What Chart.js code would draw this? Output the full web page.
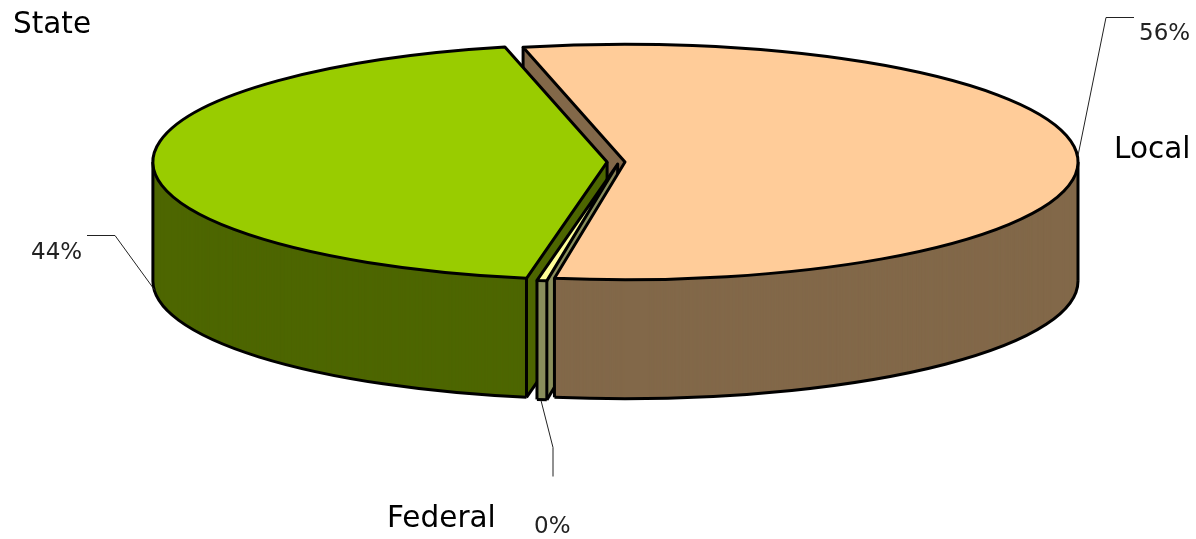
<!DOCTYPE html>
<html>
<head>
<meta charset="utf-8">
<title>Pie</title>
<script src="https://cdn.jsdelivr.net/npm/chart.js@4/dist/chart.umd.min.js"></script>
<style>
html, body { margin: 0; padding: 0; background: #fff; }
canvas { display: block; }
</style>
</head>
<body>
<canvas id="pie-chart" width="1196" height="539"></canvas>
<script>
const categories = ['Local', 'Federal', 'State'];
const shares = [56.1, 0.35, 43.55];
const percentLabels = ['56%', '0%', '44%'];
const topColors = ['#FFCC99', '#FFFF99', '#99CC00'];
const wallColors = ['#826849', '#8A8F5C', '#4D6600'];
const sliceOffsets = [24, 32, 47.6];

// 3d look: the chart is flattened to an ellipse and walls are stacked under it
const tilt = 0.26;
const depth = 119;
const outline = 3;

const nameSpots = [[1114, 158], [387, 527], [13, 33]];
const percentSpots = [[1139, 40], [534, 533], [31, 259]];
const leaders = [
    [[1078, 155], [1106, 17], [1134, 17]],
    [[541, 400], [553, 447], [553, 476]],
    [[155, 290], [115, 235], [87, 235]]
];

// same numbers ArcElement.draw uses for an offset slice
function sliceGeom(arc) {
    const move = (arc.options.offset || 0) / 4;
    const mid = (arc.startAngle + arc.endAngle) / 2;
    const fix = 1 - Math.sin(Math.min(Math.PI, arc.circumference));
    const r = arc.outerRadius + move * fix;
    return {
        x: arc.x + Math.cos(mid) * move,
        y: arc.y + Math.sin(mid) * move * tilt,
        rx: r,
        ry: r * tilt
    };
}

function slicePath(ctx, g, dy, a0, a1) {
    ctx.beginPath();
    ctx.moveTo(g.x, g.y + dy);
    ctx.ellipse(g.x, g.y + dy, g.rx, g.ry, 0, a0, a1);
    ctx.closePath();
}

function rimPoint(g, a) {
    return [g.x + Math.cos(a) * g.rx, g.y + Math.sin(a) * g.ry];
}

function drawWall(ctx, arc, color, a0, a1, edges) {
    const g = sliceGeom(arc);
    ctx.fillStyle = color;
    for (let d = depth; d > 0; d--) {
        slicePath(ctx, g, d, a0, a1);
        ctx.fill();
    }
    ctx.strokeStyle = '#000';
    ctx.lineWidth = outline;
    ctx.lineJoin = 'round';
    // only the part of the lower rim facing the viewer
    const from = Math.max(a0, 0), to = Math.min(a1, Math.PI);
    if (to > from) {
        ctx.beginPath();
        ctx.ellipse(g.x, g.y + depth, g.rx, g.ry, 0, from, to);
        ctx.stroke();
    }
    (edges.verticals || []).forEach((a) => {
        const p = a === null ? [g.x, g.y] : rimPoint(g, a);
        ctx.beginPath();
        ctx.moveTo(p[0], p[1]);
        ctx.lineTo(p[0], p[1] + depth);
        ctx.stroke();
    });
    (edges.cuts || []).forEach((a) => {
        const p = rimPoint(g, a);
        ctx.beginPath();
        ctx.moveTo(g.x, g.y + depth);
        ctx.lineTo(p[0], p[1] + depth);
        ctx.stroke();
    });
}

const pie3d = {
    id: 'pie3d',
    beforeDatasetsDraw(chart) {
        const ctx = chart.ctx;
        const arcs = chart.getDatasetMeta(0).data;
        const local = arcs[0], federal = arcs[1], state = arcs[2];
        ctx.save();
        // back part of local goes first, the other slices sit in front of it
        drawWall(ctx, local, wallColors[0], local.startAngle, 0, { verticals: [local.startAngle] });
        drawWall(ctx, state, wallColors[2], state.startAngle, state.endAngle, {
            verticals: [null, state.startAngle, Math.PI],
            cuts: [state.startAngle]
        });
        drawWall(ctx, federal, wallColors[1], federal.startAngle, federal.endAngle, {
            verticals: [null, federal.startAngle, federal.endAngle],
            cuts: [federal.startAngle]
        });
        drawWall(ctx, local, wallColors[0], 0, local.endAngle, { verticals: [0, local.endAngle] });
        ctx.restore();
        // top faces are drawn by chart.js itself under this transform
        ctx.save();
        ctx.translate(0, local.y);
        ctx.scale(1, tilt);
        ctx.translate(0, -local.y);
    },
    afterDatasetsDraw(chart) {
        const ctx = chart.ctx;
        ctx.restore();
        ctx.save();
        ctx.strokeStyle = '#000';
        ctx.lineWidth = outline;
        ctx.lineJoin = 'round';
        chart.getDatasetMeta(0).data.forEach((arc) => {
            slicePath(ctx, sliceGeom(arc), 0, arc.startAngle, arc.endAngle);
            ctx.stroke();
        });
        ctx.restore();
    },
    afterDraw(chart) {
        const ctx = chart.ctx;
        ctx.save();
        ctx.strokeStyle = '#222';
        ctx.lineWidth = 1;
        leaders.forEach((pts) => {
            ctx.beginPath();
            pts.forEach((p, i) => {
                if (i === 0) ctx.moveTo(p[0], p[1] + 0.5);
                else ctx.lineTo(p[0], p[1] + 0.5);
            });
            ctx.stroke();
        });
        ctx.textBaseline = 'alphabetic';
        ctx.fillStyle = '#000';
        ctx.font = '29.5px "DejaVu Sans"';
        categories.forEach((name, i) => {
            ctx.fillText(name, nameSpots[i][0], nameSpots[i][1]);
        });
        ctx.fillStyle = '#222';
        ctx.font = '23px "DejaVu Sans"';
        percentLabels.forEach((txt, i) => {
            ctx.fillText(txt, percentSpots[i][0], percentSpots[i][1]);
        });
        ctx.restore();
    }
};

new Chart(document.getElementById('pie-chart').getContext('2d'), {
    type: 'pie',
    data: {
        labels: categories,
        datasets: [{
            data: shares,
            backgroundColor: topColors,
            offset: sliceOffsets,
            borderWidth: 0,
            clip: false
        }]
    },
    options: {
        responsive: false,
        animation: false,
        radius: 447,
        rotation: -13,
        layout: { padding: { left: 42, bottom: 215 } },
        plugins: { legend: { display: false }, tooltip: { enabled: false } }
    },
    plugins: [pie3d]
});
</script>
</body>
</html>
